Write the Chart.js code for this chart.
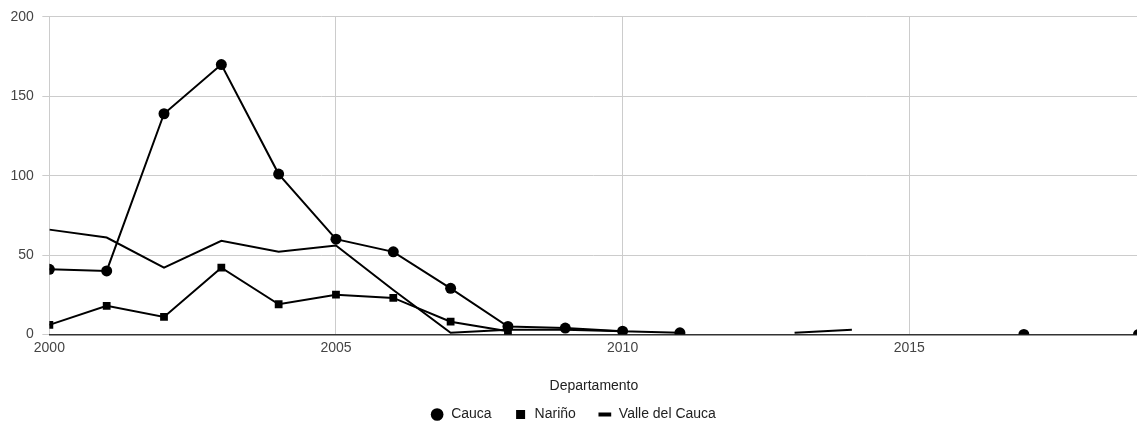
<!DOCTYPE html>
<html>
<head>
<meta charset="utf-8">
<script src="https://cdn.jsdelivr.net/npm/chart.js@4"></script>
<style>
  html, body { margin: 0; padding: 0; background: #fff; overflow: hidden; }
  #wrap { width: 1144px; height: 424px; }
</style>
</head>
<body>
<div id="wrap"><canvas id="lineChart"></canvas></div>
<script>
// years on the x axis
const years = [2000, 2001, 2002, 2003, 2004, 2005, 2006, 2007, 2008, 2009,
               2010, 2011, 2012, 2013, 2014, 2015, 2016, 2017, 2018, 2019];

// values per departamento (null = no data)
const cauca = [41, 40, 139, 170, 101, 60, 52, 29, 5, 4,
               2, 1, null, null, null, null, null, 0, null, 0];
const narino = [6, 18, 11, 42, 19, 25, 23, 8, 2, null,
                null, null, null, null, null, null, null, null, null, null];
const valle = [66, 61, 42, 59, 52, 56, 28, 1, 3, 3,
               2, null, null, 1, 3, null, null, null, null, null];

const seriesNames = ['Cauca', 'Nariño', 'Valle del Cauca'];
const xTitle = 'Departamento';

function toPoints(values) {
  return years.map((y, i) => ({ x: y, y: values[i] }));
}

Chart.defaults.font.family = '"Liberation Sans", Arial, sans-serif';
Chart.defaults.font.size = 14;
Chart.defaults.color = '#444';

const ctx = document.getElementById('lineChart').getContext('2d');

new Chart(ctx, {
  type: 'line',
  data: {
    datasets: [
      {
        label: seriesNames[0],
        data: toPoints(cauca),
        borderColor: '#000',
        backgroundColor: '#000',
        borderWidth: 2,
        pointStyle: 'circle',
        pointRadius: 5.5,
        pointBorderWidth: 0,
        spanGaps: false
      },
      {
        label: seriesNames[1],
        data: toPoints(narino),
        borderColor: '#000',
        backgroundColor: '#000',
        borderWidth: 2,
        pointStyle: 'rect',
        pointRadius: 5.5,
        pointBorderWidth: 0
      },
      {
        label: seriesNames[2],
        data: toPoints(valle),
        borderColor: '#000',
        backgroundColor: '#000',
        borderWidth: 2,
        pointStyle: 'line',
        pointRadius: 0
      }
    ]
  },
  options: {
    responsive: true,
    maintainAspectRatio: false,
    animation: false,
    layout: { padding: { top: 9, right: 0, left: 2, bottom: -7.5 } },
    scales: {
      x: {
        type: 'linear',
        min: 2000,
        max: 2019,
        afterBuildTicks: function (scale) {
          // only the 5-year marks, no tick at the right edge
          scale.ticks = scale.ticks.filter(t => t.value % 5 === 0);
        },
        ticks: {
          stepSize: 5,
          padding: 5.6,
          color: '#444',
          callback: v => String(v)
        },
        grid: { color: '#ccc', drawTicks: false },
        border: { display: true, color: '#333', width: 1.5 },
        title: {
          display: true,
          text: xTitle,
          color: '#222',
          padding: { top: 15.3, bottom: -9 }
        }
      },
      y: {
        min: 0,
        max: 200,
        ticks: { stepSize: 50, padding: 8.5, color: '#444' },
        grid: { color: '#ccc', tickLength: 7 },
        border: { display: false }
      }
    },
    plugins: {
      legend: {
        position: 'bottom',
        labels: {
          usePointStyle: true,
          boxHeight: 9,
          padding: 22,
          color: '#222',
          generateLabels: function (chart) {
            const items = Chart.defaults.plugins.legend.labels.generateLabels(chart);
            items.forEach(it => {
              it.lineWidth = it.pointStyle === 'line' ? 4 : 0;
            });
            return items;
          }
        }
      },
      tooltip: { enabled: false }
    }
  }
});
</script>
</body>
</html>
